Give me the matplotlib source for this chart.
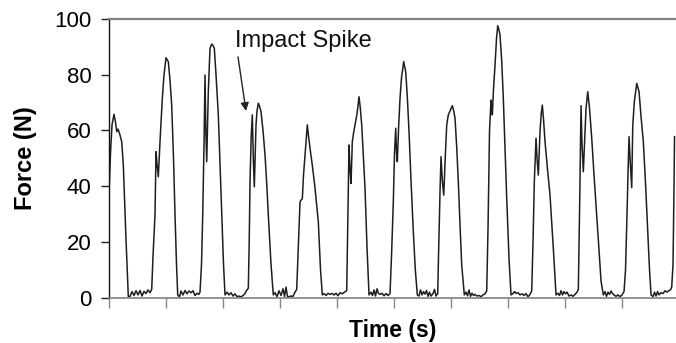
import numpy as np
import matplotlib
matplotlib.use("Agg")
import matplotlib.pyplot as plt

plt.rcParams['font.family'] = ['Liberation Sans', 'DejaVu Sans']

# Force recording, sampled at 57 Hz (sample index, force in N)
SAMPLE_RATE_HZ = 57.0

samples = [
    # first contact (already under way)
    0.0, 1.2, 2.7, 4.7, 6.2, 7.4, 8.7, 10.2, 12.4, 14.0, 16.4, 19.0,
    20.7, 22.7, 24.7, 26.7, 28.7, 30.7, 32.7, 34.7, 36.7, 38.7, 40.7, 42.4,
    # contact 2
    43.7, 45.7, 46.7, 47.7, 49.0, 50.7, 53.0, 54.7, 56.7, 59.0, 60.7, 62.4, 64.2, 65.7, 67.2, 68.4,
    70.2, 71.7, 73.7, 75.7, 77.7, 79.7, 81.7, 83.7, 85.7, 87.7, 89.4, 90.7,
    # contact 3
    92.2, 93.4, 94.7, 95.7, 96.5, 97.4, 98.2, 99.0, 100.7, 102.4, 103.7, 105.0, 106.7, 109.0, 110.7,
    112.4, 114.2, 115.7,
    117.7, 119.7, 121.7, 123.7, 125.7, 127.7, 129.7, 131.7, 133.7, 135.7, 137.2, 139.0,
    # contact 4
    139.9, 140.7, 141.9, 143.0, 144.0, 145.0, 145.9, 146.7, 147.7, 149.0, 150.4, 151.7, 153.7, 155.7,
    157.4, 159.0, 161.7, 164.0,
    165.7, 167.7, 169.7, 171.7, 173.7, 175.2, 176.7, 178.2, 179.7, 181.7, 183.7, 185.7, 187.4,
    # contact 5
    188.7, 190.7, 191.7, 193.0, 194.2, 195.7, 198.0, 199.2, 200.7, 203.2, 205.7, 207.7, 209.0, 211.2, 213.0,
    214.7, 216.7, 218.7, 220.7, 222.7, 224.7, 226.7, 228.7, 230.7, 232.7, 234.7, 237.4,
    # contact 6
    238.4, 239.7, 240.7, 241.7, 243.0, 244.2, 245.7, 247.7, 249.7, 251.0, 252.4, 254.2, 255.7, 257.7, 259.7,
    261.7, 263.2, 264.7, 266.2, 267.7, 269.2, 270.7, 272.7, 274.7, 276.7, 278.7, 280.7,
    # contact 7
    282.2, 284.0, 285.2, 286.4, 287.2, 288.0, 289.4, 290.7, 292.2, 294.4, 296.4, 298.0, 299.7, 301.7,
    304.0, 306.0, 308.0,
    309.7, 311.2, 312.7, 314.2, 315.7, 317.2, 318.7, 320.2, 321.7, 323.7, 325.2, 326.7, 328.4,
    # contact 8
    329.2, 330.7, 331.7, 333.0, 334.4, 335.9, 337.4, 339.0, 340.7, 343.0, 344.4, 345.7, 347.4, 349.0,
    350.7, 352.4, 355.0,
    356.7, 358.2, 359.7, 361.2, 362.7, 364.2, 365.7, 367.7, 369.7, 371.7, 373.7, 375.7, 377.4,
    # contact 9
    378.7, 380.2, 381.7, 382.4, 383.0, 384.2, 385.7, 387.2, 388.4, 389.7, 390.7, 392.4, 394.0, 395.7,
    397.4, 399.7, 401.7,
    403.7, 405.2, 406.7, 408.7, 410.7, 412.7, 414.7, 416.7, 418.7, 420.7, 422.4,
    # contact 10
    423.7, 425.0, 426.7, 427.7, 429.0, 430.7, 431.9, 433.0, 434.2, 435.7, 438.2, 440.7, 442.4, 444.0, 446.7,
    448.7, 450.2, 451.7, 453.2, 454.7, 456.2, 457.7, 459.7, 461.7, 463.7, 465.7, 467.7, 469.0,
    # contact 11
    470.4, 471.7, 472.7, 474.0, 475.0, 476.7, 478.4, 480.2, 482.4, 484.7, 487.4, 489.7, 491.7, 494.0,
    495.7, 497.2, 498.7, 500.2, 501.7, 503.2, 504.7, 506.7, 508.7, 510.7, 512.7, 514.7,
    # contact 12
    516.2, 517.7, 518.7, 519.7, 521.0, 522.4, 523.4, 525.0, 527.4, 529.7, 531.7, 534.0, 536.2, 538.4,
    540.2, 541.7,
    543.7, 545.2, 546.7, 548.2, 549.7, 551.7, 553.7, 555.7, 557.7, 559.7, 561.2, 562.4,
    # start of contact 13
    563.7, 564.7, 565.2,
]

force_n = [
    40.0, 52.0, 62.0, 65.8, 63.0, 59.6, 60.5, 59.0, 56.0, 47.6, 23.7, 0.4,
    0.5, 2.2, 0.8, 2.5, 1.0, 2.6, 0.6, 2.3, 1.5, 2.8, 1.8, 3.0,
    15.0, 29.7, 52.4, 48.0, 43.4, 56.0, 71.5, 80.0, 86.1, 84.7, 78.0, 69.0, 50.0, 29.7, 12.0, 1.0,
    0.3, 2.4, 1.0, 2.6, 1.4, 2.4, 1.8, 2.5, 0.8, 1.6, 1.2, 2.0,
    12.0, 29.7, 55.0, 79.9, 60.0, 48.8, 62.0, 73.9, 89.5, 91.0, 90.5, 89.5, 80.0, 65.6, 48.0,
    29.7, 12.0, 1.0,
    2.0, 1.0, 1.8, 0.6, 1.4, 0.4, 0.6, 0.3, 0.8, 1.5, 2.6, 3.4,
    20.0, 41.6, 58.0, 65.6, 50.0, 39.8, 52.0, 62.0, 67.0, 69.8, 68.5, 66.7, 60.0, 51.2,
    41.0, 29.7, 12.0, 1.0,
    1.8, 0.4, 2.5, 0.8, 3.2, 0.5, 3.8, 0.3, 0.4, 0.6, 0.5, 2.0, 3.0,
    15.0, 34.4, 35.0, 35.5, 44.0, 51.2, 62.0, 58.0, 53.6, 47.0, 39.3, 32.0, 27.3, 10.0, 1.0,
    1.5, 0.8, 1.6, 1.2, 1.5, 1.0, 1.6, 0.7, 1.8, 1.4, 1.9, 2.5,
    25.0, 54.8, 46.0, 41.0, 56.0, 59.0, 62.0, 66.0, 72.1, 68.0, 62.0, 50.0, 39.3, 18.0, 1.0,
    2.0, 0.8, 2.8, 0.6, 3.2, 1.5, 1.2, 1.6, 0.7, 1.5, 0.8, 1.5,
    15.0, 34.4, 52.0, 60.8, 52.0, 48.8, 62.0, 71.5, 79.0, 84.7, 81.0, 72.0, 59.6, 42.0,
    23.7, 10.0, 1.0,
    0.6, 2.8, 1.0, 2.2, 1.3, 2.6, 0.5, 2.0, 0.6, 1.5, 3.0, 0.6, 1.5,
    15.0, 38.0, 50.6, 42.0, 36.8, 50.0, 62.0, 65.6, 67.0, 68.9, 67.0, 64.4, 54.0, 41.6,
    26.0, 11.7, 1.0,
    2.0, 0.7, 2.8, 0.5, 1.6, 0.8, 1.2, 0.6, 0.8, 0.4, 1.0, 1.4, 2.5,
    25.0, 60.0, 70.9, 67.0, 65.6, 75.0, 83.5, 93.0, 97.6, 96.0, 94.2, 85.0, 71.5, 53.0,
    35.7, 14.0, 1.0,
    1.5, 2.2, 1.6, 1.8, 1.0, 1.4, 0.8, 1.5, 0.3, 1.2, 2.5,
    20.0, 41.6, 57.2, 50.0, 44.0, 59.6, 66.0, 69.1, 64.0, 56.0, 46.0, 36.8, 27.0, 17.7, 1.0,
    1.6, 0.8, 2.5, 1.0, 2.2, 1.4, 2.0, 0.6, 1.0, 0.5, 1.2, 2.0, 3.0,
    35.0, 68.9, 55.0, 45.2, 53.6, 67.9, 73.9, 68.0, 57.2, 44.0, 29.7, 17.0, 6.0, 1.0,
    2.2, 0.5, 2.0, 1.2, 2.4, 1.5, 1.0, 0.5, 1.0, 0.4, 1.0, 2.2,
    10.0, 30.0, 45.0, 57.8, 48.0, 39.5, 61.4, 70.3, 76.9, 74.0, 65.0, 56.0, 41.0, 23.7,
    10.0, 1.0,
    0.4, 2.0, 0.6, 2.2, 1.0, 1.8, 1.5, 2.5, 2.0, 2.6, 2.8, 3.9,
    12.0, 40.0, 57.8,
]

y_ticks = [0, 20, 40, 60, 80, 100]
x_ticks = list(range(10))

annotation_text = "Impact Spike"
annotation_xy = (2.398, 67.0)      # tip of the arrow (s, N)
annotation_text_xy = (2.205, 90.1) # text baseline start (s, N)
arrow_tail = (2.258, 86.4)

time_s = np.asarray(samples) / SAMPLE_RATE_HZ
force = np.asarray(force_n)

fig = plt.figure(figsize=(6.76, 3.43), dpi=100)
ax = fig.add_axes([0.1617, 0.132, 0.8376, 0.8126])

ax.plot(time_s, force, color='#1e1e1e', lw=1.1, solid_joinstyle='round')

ax.set_xlim(0, 566.2 / SAMPLE_RATE_HZ)
ax.set_ylim(0, 100)
ax.set_xticks(x_ticks)
ax.set_xticklabels([])
ax.set_yticks(y_ticks)
ax.set_yticklabels([str(v) for v in y_ticks], fontsize=16)

ax.tick_params(axis='y', direction='out', length=6, width=1, color='#222222', pad=7)
ax.tick_params(axis='x', direction='out', length=7, width=1, color='#888888', pad=0)

ax.spines['left'].set_color('#111111')
ax.spines['left'].set_linewidth(1.0)
ax.spines['top'].set_color('#808080')
ax.spines['top'].set_linewidth(1.6)
ax.spines['bottom'].set_color('#808080')
ax.spines['bottom'].set_linewidth(1.2)
ax.spines['right'].set_visible(False)

ax.set_ylabel("Force (N)", fontsize=17, fontweight='bold', labelpad=12)
ax.set_xlabel("Time (s)", fontsize=16.5, fontweight='bold', labelpad=8)

ax.text(annotation_text_xy[0], annotation_text_xy[1], annotation_text,
        fontsize=17, ha='left', va='baseline', color='#111111')
ax.annotate('', xy=annotation_xy, xytext=arrow_tail,
            arrowprops=dict(arrowstyle='-|>', color='#222222', lw=1.0,
                            mutation_scale=12, shrinkA=0, shrinkB=0))

fig.savefig("out.png", dpi=100)
